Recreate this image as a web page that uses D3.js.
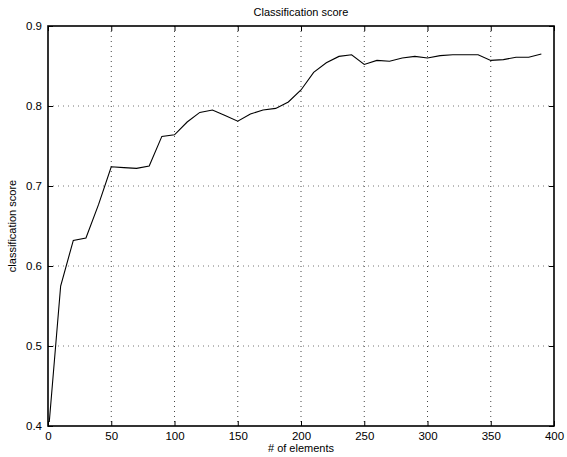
<!DOCTYPE html>
<html><head><meta charset="utf-8">
<script src="https://cdn.jsdelivr.net/npm/d3@7"></script>
<style>body{margin:0;background:#fff}svg{display:block}text{font-family:"Liberation Sans",Arial,sans-serif}</style>
</head><body>
<script>
const elements = [1,10,20,30,40,50,60,70,80,90,100,110,120,130,140,150,160,170,180,190,200,210,220,230,240,250,260,270,280,290,300,310,320,330,340,350,360,370,380,390];
const scores = [0.405,0.575,0.632,0.635,0.677,0.724,0.723,0.722,0.725,0.762,0.764,0.780,0.792,0.795,0.788,0.781,0.790,0.795,0.797,0.805,0.820,0.842,0.854,0.862,0.864,0.852,0.857,0.856,0.860,0.862,0.860,0.863,0.864,0.864,0.864,0.857,0.858,0.861,0.861,0.865];
const xTicks = [0,50,100,150,200,250,300,350,400];
const yTicks = [0.4,0.5,0.6,0.7,0.8,0.9];

const W=567,H=457, L=48, R=554, T=26, B=426;
const svg=d3.select("body").append("svg").attr("width",W).attr("height",H);
const x=d3.scaleLinear().domain([0,400]).range([L,R]);
const y=d3.scaleLinear().domain([0.4,0.9]).range([B,T]);

// grid
svg.append("g").selectAll("line").data(xTicks.slice(1,-1)).join("line")
  .attr("x1",d=>x(d)).attr("x2",d=>x(d)).attr("y1",T).attr("y2",B)
  .attr("stroke","#444").attr("stroke-width",1).attr("stroke-dasharray","1,4");
svg.append("g").selectAll("line").data(yTicks.slice(1,-1)).join("line")
  .attr("y1",d=>y(d)).attr("y2",d=>y(d)).attr("x1",L).attr("x2",R)
  .attr("stroke","#777").attr("stroke-width",1).attr("stroke-dasharray","1,4");

// axes with inward ticks
const fmtY=d3.format(".1f");
const gx=svg.append("g").attr("transform",`translate(0,${B})`)
  .call(d3.axisBottom(x).tickValues(xTicks).tickSizeInner(-5).tickSizeOuter(0).tickPadding(6));
const gxt=svg.append("g").attr("transform",`translate(0,${T})`)
  .call(d3.axisTop(x).tickValues(xTicks).tickSizeInner(-5).tickSizeOuter(0).tickFormat(""));
const gy=svg.append("g").attr("transform",`translate(${L},0)`)
  .call(d3.axisLeft(y).tickValues(yTicks).tickSizeInner(-5).tickSizeOuter(0).tickPadding(6).tickFormat(fmtY));
const gyr=svg.append("g").attr("transform",`translate(${R},0)`)
  .call(d3.axisRight(y).tickValues(yTicks).tickSizeInner(-5).tickSizeOuter(0).tickFormat(""));
[gx,gxt,gy,gyr].forEach(g=>{
  g.select(".domain").remove();
  g.selectAll("line").attr("stroke","#000");
  g.selectAll("text").attr("font-size",11.5).attr("fill","#000").style("font-family",'"Liberation Sans",Arial,sans-serif');
});

// frame
svg.append("rect").attr("x",L).attr("y",T).attr("width",R-L).attr("height",B-T)
  .attr("fill","none").attr("stroke","#000").attr("stroke-width",1.6);

// line
const line=d3.line().x((d,i)=>x(elements[i])).y(d=>y(d));
svg.append("path").datum(scores).attr("d",line).attr("fill","none")
  .attr("stroke","#000").attr("stroke-width",1.1);

// labels
svg.append("text").attr("x",(L+R)/2).attr("y",16).attr("text-anchor","middle")
  .attr("font-size",11).text("Classification score");
svg.append("text").attr("x",(L+R)/2).attr("y",452).attr("text-anchor","middle")
  .attr("font-size",11).text("# of elements");
svg.append("text").attr("transform",`translate(16,${(T+B)/2}) rotate(-90)`).attr("text-anchor","middle")
  .attr("font-size",11).text("classification score");
</script>
</body></html>
